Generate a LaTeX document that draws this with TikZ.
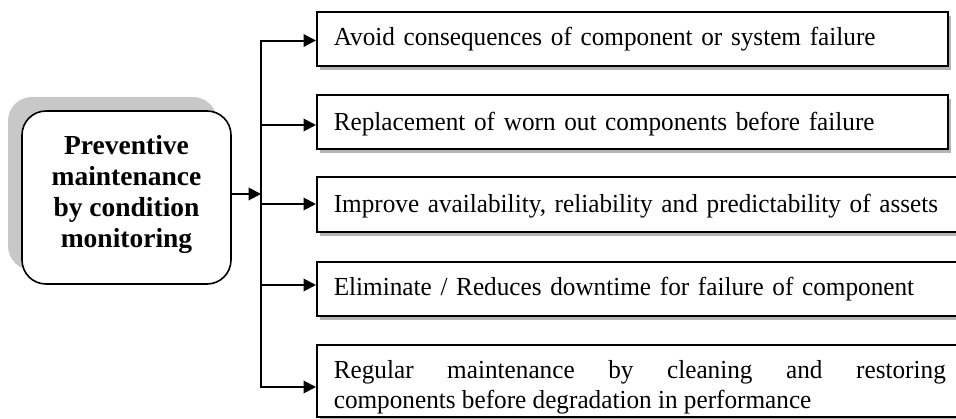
\documentclass[tikz,border=0pt]{standalone}
\usepackage{fontspec}
\setmainfont{Liberation Serif}
\newfontfamily\condensedserif[FakeStretch=0.97]{Liberation Serif}
\usetikzlibrary{arrows.meta,shadows}
\definecolor{shadowbig}{RGB}{200,200,200}
\definecolor{shadowsmall}{RGB}{180,180,180}
\begin{document}
\begin{tikzpicture}[x=1pt,y=-1pt,
  conn/.style={line width=2pt,-{Triangle[length=12.5pt,width=12.5pt]}},
  mainbox/.style={draw,line width=1.6pt,fill=white,rounded corners=24pt,
    minimum width=209pt,minimum height=173pt,inner sep=0pt,
    font=\bfseries\fontsize{27.5}{31}\selectfont,
    drop shadow={shadow xshift=-14pt,shadow yshift=14pt,fill=shadowbig,opacity=1}},
  itembox/.style={draw,line width=1.6pt,fill=white,anchor=base west,
    inner xsep=17pt,inner ysep=0pt,align=left,
    font=\condensedserif\fontsize{26}{30}\selectfont,
    drop shadow={shadow xshift=3.5pt,shadow yshift=-3.5pt,fill=shadowsmall,opacity=1}}
]
\useasboundingbox (0,0) rectangle (956,418);
\clip (0,0) rectangle (956,418);
\fill[white] (0,0) rectangle (956,418);

\node[mainbox] (pm) at (126.5,197.5)
  {\parbox{200pt}{\centering Preventive\\maintenance\\by condition\\monitoring\par\vskip6pt}};

\node[itembox,text width=597pt,text height=33pt,text depth=21pt] (b1) at (316,45)
  {Avoid consequences of component or system failure};
\node[itembox,text width=597pt,text height=35pt,text depth=19pt] (b2) at (316,130)
  {Replacement of worn out components before failure};
\node[itembox,text width=660pt,text height=35pt,text depth=20pt] (b3) at (316,212)
  {Improve availability, reliability and predictability of assets};
\node[itembox,text width=660pt,text height=33pt,text depth=21pt] (b4) at (316,295)
  {Eliminate / Reduces downtime for failure of component};
\node[itembox,align=justify,text width=612pt,text height=33pt,text depth=39pt] (b5) at (316,378)
  {Regular maintenance by cleaning and restoring\linebreak components before degradation in performance};

\coordinate (t1) at (261,40.5);
\coordinate (t2) at (261,125);
\coordinate (t3) at (261,204);
\coordinate (t4) at (261,285);
\coordinate (t5) at (261,387);
\coordinate (tm) at (261,194);

\draw[conn] (pm.east |- tm) -- (tm);
\draw[conn] (tm) -- (t1) -- (t1 -| b1.west);
\draw[conn] (tm) -- (t5) -- (t5 -| b5.west);
\draw[conn] (t2) -- (t2 -| b2.west);
\draw[conn] (t3) -- (t3 -| b3.west);
\draw[conn] (t4) -- (t4 -| b4.west);
\end{tikzpicture}
\end{document}
